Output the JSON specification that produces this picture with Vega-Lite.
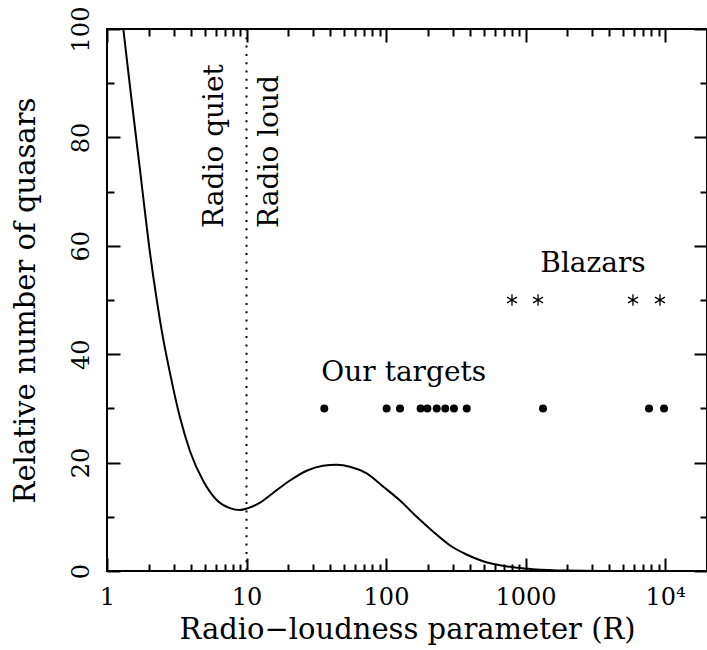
{
  "$schema": "https://vega.github.io/schema/vega-lite/v6.json",
  "width": 600,
  "height": 542,
  "autosize": {"type": "none"},
  "padding": {"left": 107, "top": 29, "right": 0, "bottom": 79},
  "background": "white",
  "config": {
    "view": {"stroke": "black", "strokeWidth": 2},
    "font": "DejaVu Serif",
    "axis": {
      "labelFont": "DejaVu Serif",
      "titleFont": "DejaVu Serif",
      "labelColor": "black",
      "titleColor": "black",
      "titleFontWeight": "normal",
      "tickColor": "black",
      "tickWidth": 2,
      "grid": false,
      "domain": false,
      "labelFlush": false,
      "labelOverlap": false
    },
    "text": {"font": "DejaVu Serif", "color": "black"}
  },
  "resolve": {"axis": {"x": "independent", "y": "independent"}},
  "layer": [
    {
      "data": {"values": [
        {"R": 1.309, "N": 100}, {"R": 1.462, "N": 89.35}, {"R": 1.724, "N": 74.0},
        {"R": 2.033, "N": 58.7}, {"R": 2.271, "N": 50.1}, {"R": 2.466, "N": 44.4},
        {"R": 2.829, "N": 36.5}, {"R": 3.337, "N": 28.3}, {"R": 3.936, "N": 22.1},
        {"R": 4.877, "N": 16.7}, {"R": 6.11, "N": 13.1}, {"R": 7.61, "N": 11.6},
        {"R": 8.98, "N": 11.25}, {"R": 10.25, "N": 11.6}, {"R": 12.5, "N": 12.6},
        {"R": 15.49, "N": 14.4}, {"R": 20.5, "N": 16.7}, {"R": 27.0, "N": 18.5},
        {"R": 35.3, "N": 19.4}, {"R": 44.3, "N": 19.6}, {"R": 55.2, "N": 19.25},
        {"R": 72.7, "N": 18.0}, {"R": 95.2, "N": 15.6}, {"R": 126, "N": 13.0},
        {"R": 166, "N": 10.0}, {"R": 217, "N": 7.3}, {"R": 288, "N": 4.7},
        {"R": 381, "N": 3.0}, {"R": 496, "N": 1.8}, {"R": 656, "N": 1.05},
        {"R": 868, "N": 0.6}, {"R": 1132, "N": 0.33}, {"R": 1983, "N": 0.07},
        {"R": 3420, "N": 0.01}, {"R": 20000, "N": 0}
      ]},
      "mark": {"type": "line", "color": "black", "strokeWidth": 2, "interpolate": "monotone", "clip": true},
      "encoding": {
        "x": {"field": "R", "type": "quantitative", "sort": null,
          "scale": {"type": "log", "domain": [1, 20000], "nice": false},
          "axis": {"orient": "bottom", "values": [1, 10, 100, 1000, 10000],
            "labelExpr": "datum.value >= 10000 ? '10⁴' : format(datum.value, 'd')",
            "ticks": false, "labelPadding": 14, "labelFontSize": 24,
            "title": "Radio−loudness parameter (R)", "titleFontSize": 29, "titlePadding": 6}},
        "y": {"field": "N", "type": "quantitative",
          "scale": {"domain": [0, 100], "nice": false, "zero": true},
          "axis": {"orient": "left", "values": [0, 20, 40, 60, 80, 100],
            "ticks": false, "labelAngle": 270, "labelAlign": "center", "labelBaseline": "alphabetic",
            "labelPadding": 19, "labelFontSize": 24,
            "title": "Relative number of quasars", "titleFontSize": 29, "titlePadding": 29}}
      }
    },
    {
      "data": {"values": [{"R": 10}]},
      "mark": {"type": "rule", "color": "black", "strokeWidth": 2, "strokeDash": [2, 6.3]},
      "encoding": {
        "x": {"field": "R", "type": "quantitative",
          "scale": {"type": "log", "domain": [1, 20000], "nice": false},
          "axis": {"orient": "bottom", "values": [1, 10, 100, 1000, 10000], "labels": false, "tickSize": -13, "title": null}}
      }
    },
    {
      "data": {"values": [
        {"R": 36.1, "N": 30}, {"R": 101, "N": 30}, {"R": 126, "N": 30},
        {"R": 177, "N": 30}, {"R": 198, "N": 30}, {"R": 231, "N": 30},
        {"R": 266, "N": 30}, {"R": 307, "N": 30}, {"R": 379, "N": 30},
        {"R": 1335, "N": 30}, {"R": 7680, "N": 30}, {"R": 9840, "N": 30}
      ]},
      "mark": {"type": "point", "shape": "circle", "filled": true, "color": "black", "size": 64, "opacity": 1},
      "encoding": {
        "x": {"field": "R", "type": "quantitative",
          "scale": {"type": "log", "domain": [1, 20000], "nice": false},
          "axis": {"orient": "bottom", "values": [2,3,4,5,6,7,8,9,20,30,40,50,60,70,80,90,200,300,400,500,600,700,800,900,2000,3000,4000,5000,6000,7000,8000,9000],
            "labels": false, "tickSize": -7, "title": null}},
        "y": {"field": "N", "type": "quantitative",
          "scale": {"domain": [0, 100], "nice": false},
          "axis": {"orient": "left", "values": [0, 20, 40, 60, 80, 100], "labels": false, "tickSize": -13, "title": null}}
      }
    },
    {
      "data": {"values": [
        {"R": 800, "N": 50}, {"R": 1230, "N": 50}, {"R": 5890, "N": 50}, {"R": 9200, "N": 50}
      ]},
      "mark": {"type": "point", "shape": "M0,-1L0,1M-0.87,-0.5L0.87,0.5M-0.87,0.5L0.87,-0.5", "filled": false, "color": "black", "strokeWidth": 1.3, "size": 130, "opacity": 1},
      "encoding": {
        "x": {"field": "R", "type": "quantitative",
          "scale": {"type": "log", "domain": [1, 20000], "nice": false},
          "axis": {"orient": "top", "values": [1, 10, 100, 1000, 10000], "labels": false, "tickSize": -13, "title": null}},
        "y": {"field": "N", "type": "quantitative",
          "scale": {"domain": [0, 100], "nice": false},
          "axis": {"orient": "left", "values": [10, 30, 50, 70, 90], "labels": false, "tickSize": -7, "title": null}}
      }
    },
    {
      "data": {"values": [
        {"R": 5.95, "N": 63.3, "t": "Radio quiet"},
        {"R": 14.7, "N": 63.3, "t": "Radio loud"}
      ]},
      "mark": {"type": "text", "angle": 270, "align": "left", "baseline": "middle", "fontSize": 28, "color": "black"},
      "encoding": {
        "text": {"field": "t"},
        "x": {"field": "R", "type": "quantitative",
          "scale": {"type": "log", "domain": [1, 20000], "nice": false},
          "axis": {"orient": "top", "values": [2,3,4,5,6,7,8,9,20,30,40,50,60,70,80,90,200,300,400,500,600,700,800,900,2000,3000,4000,5000,6000,7000,8000,9000],
            "labels": false, "tickSize": -7, "title": null}},
        "y": {"field": "N", "type": "quantitative",
          "scale": {"domain": [0, 100], "nice": false},
          "axis": {"orient": "right", "values": [0, 20, 40, 60, 80, 100], "labels": false, "tickSize": -13, "title": null}}
      }
    },
    {
      "data": {"values": [
        {"R": 134, "N": 35.1, "t": "Our targets"},
        {"R": 3048, "N": 55.2, "t": "Blazars"}
      ]},
      "mark": {"type": "text", "align": "center", "baseline": "alphabetic", "fontSize": 28, "color": "black"},
      "encoding": {
        "text": {"field": "t"},
        "x": {"field": "R", "type": "quantitative",
          "scale": {"type": "log", "domain": [1, 20000], "nice": false},
          "axis": null},
        "y": {"field": "N", "type": "quantitative",
          "scale": {"domain": [0, 100], "nice": false},
          "axis": {"orient": "right", "values": [10, 30, 50, 70, 90], "labels": false, "tickSize": -7, "title": null}}
      }
    }
  ]
}
